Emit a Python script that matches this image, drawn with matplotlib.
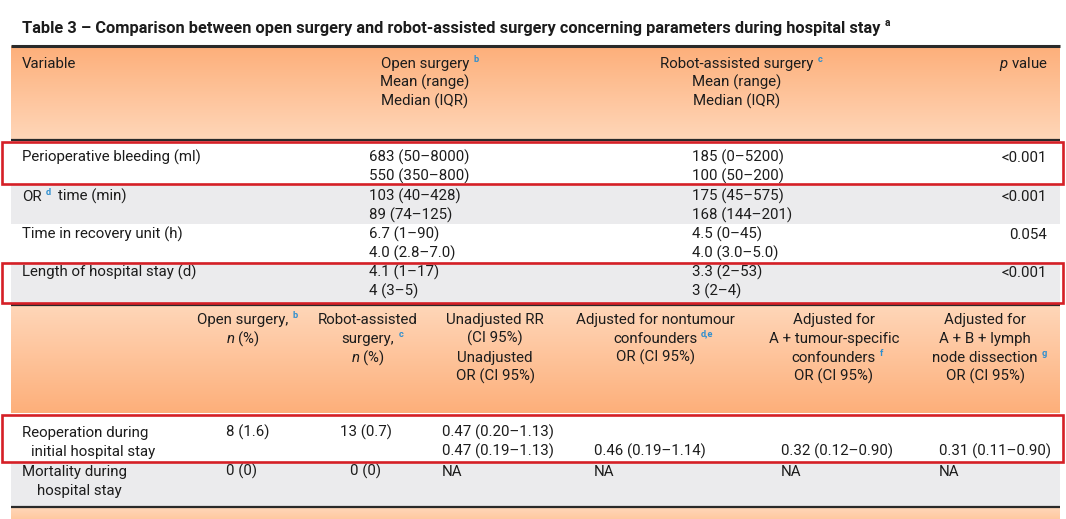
import numpy as np
import matplotlib
matplotlib.use("Agg")
import matplotlib.pyplot as plt
from matplotlib.colors import LinearSegmentedColormap
from matplotlib.patches import Rectangle

#fonts
FONT = "Roboto"
plt.rcParams["font.family"] = [FONT, "DejaVu Sans"]
plt.rcParams["mathtext.fontset"] = "custom"
plt.rcParams["mathtext.rm"] = FONT
plt.rcParams["mathtext.it"] = FONT + ":italic"

#1. Data - table 1 (hospital stay parameters)
title = "Table 3 \u2013 Comparison between open surgery and robot-assisted surgery concerning parameters during hospital stay"
variables = ["Perioperative bleeding (ml)", "OR", "Time in recovery unit (h)", "Length of hospital stay (d)"]
open_mean = ["683 (50\u20138000)", "103 (40\u2013428)", "6.7 (1\u201390)", "4.1 (1\u201317)"]
open_median = ["550 (350\u2013800)", "89 (74\u2013125)", "4.0 (2.8\u20137.0)", "4 (3\u20135)"]
robot_mean = ["185 (0\u20135200)", "175 (45\u2013575)", "4.5 (0\u201345)", "3.3 (2\u201353)"]
robot_median = ["100 (50\u2013200)", "168 (144\u2013201)", "4.0 (3.0\u20135.0)", "3 (2\u20134)"]
p_values = ["<0.001", "<0.001", "0.054", "<0.001"]

#2. Data - table 2 (reoperation / mortality)
outcomes = [["Reoperation during", "initial hospital stay"], ["Mortality during", "hospital stay"]]
open_n = ["8 (1.6)", "0 (0)"]
robot_n = ["13 (0.7)", "0 (0)"]
unadj_rr = ["0.47 (0.20\u20131.13)", "NA"]
unadj_or = ["0.47 (0.19\u20131.13)", ""]
adj_a = ["0.46 (0.19\u20131.14)", "NA"]
adj_b = ["0.32 (0.12\u20130.90)", "NA"]
adj_c = ["0.31 (0.11\u20130.90)", "NA"]

head2 = [
    (["Open surgery,", "$n$ (%)"], "b", 0),
    (["Robot-assisted", "surgery,", "$n$ (%)"], "c", 1),
    (["Unadjusted RR", "(CI 95%)", "Unadjusted", "OR (CI 95%)"], None, None),
    (["Adjusted for nontumour", "confounders", "OR (CI 95%)"], "d,e", 1),
    (["Adjusted for", "A + tumour-specific", "confounders", "OR (CI 95%)"], "f", 2),
    (["Adjusted for", "A + B + lymph", "node dissection", "OR (CI 95%)"], "g", 2),
]

#3. Style
FS = 10.8
TXT = "#1c1c1c"
BLUE = "#2f8fcf"
GRAY = "#ebebed"
RULE = "#2a2a2a"
RED = "#d51f26"
ORANGE_DARK = "#fdaf7a"
ORANGE_LIGHT = "#ffd6b8"
W, H = 1066, 519

fig = plt.figure(figsize=(W / 100, H / 100), dpi=100)
ax = fig.add_axes([0, 0, 1, 1])
ax.set_xlim(0, W)
ax.set_ylim(H, 0)
ax.set_autoscale_on(False)
ax.axis("off")
renderer = fig.canvas.get_renderer()

def gradient(x0, x1, y_top, y_bot, c_top, c_bot):
    cmap = LinearSegmentedColormap.from_list("g", [c_top, c_bot])
    grad = np.linspace(0, 1, 200).reshape(-1, 1)
    ax.imshow(grad, cmap=cmap, extent=(x0, x1, y_bot, y_top), aspect="auto", origin="upper", zorder=0)

def band(y0, y1, color):
    ax.add_patch(Rectangle((11, y0), 1049, y1 - y0, facecolor=color, edgecolor="none", zorder=0))

def rule(y, lw=1.5):
    ax.plot([11, 1060], [y, y], color=RULE, lw=lw, solid_capstyle="butt", zorder=2)

def put(x, y, s, ha="left", sup=None, sup_color=BLUE, bold=False, fs=FS):
    #y is the visual centre of the line, text is placed on its baseline
    t = ax.text(x, y + fs * 0.47, s, ha=ha, va="baseline", fontsize=fs, color=TXT,
                fontweight="bold" if bold else "normal", zorder=3)
    if sup:
        bb = t.get_window_extent(renderer)
        ax.text(bb.x1 + 4, y - fs * 0.12, sup, ha="left", va="baseline", fontsize=fs * 0.62,
                color=sup_color, fontweight="bold", zorder=3)
    return t

#4. Backgrounds
gradient(11, 1060, 46, 139, ORANGE_DARK, ORANGE_LIGHT)
gradient(11, 1060, 306, 413, ORANGE_LIGHT, ORANGE_DARK)
gradient(11, 1060, 508, 519, ORANGE_LIGHT, "#ffc9a0")
row_tops = [141, 184, 224, 262, 304]
for i in range(len(variables)):
    band(row_tops[i], row_tops[i + 1], "white" if i % 2 == 0 else GRAY)
band(413, 462, "white")
band(462, 506, GRAY)

rule(46, 2.2)
rule(140, 1.6)
rule(305, 1.6)
rule(507, 1.6)

#5. Title
put(22, 27, title, sup="a", sup_color=TXT, bold=True, fs=11.8)

#6. Table 1 header
put(22, 63, "Variable")
for cx, name, sup in [(425, "Open surgery", "b"), (737, "Robot-assisted surgery", "c")]:
    put(cx, 63, name, ha="center", sup=sup)
    put(cx, 82, "Mean (range)", ha="center")
    put(cx, 101, "Median (IQR)", ha="center")
put(1048, 63, "$p$ value", ha="right")

#7. Table 1 rows
line1 = [157, 196, 234, 272]
for i, var in enumerate(variables):
    y1, y2 = line1[i], line1[i] + 19
    if var == "OR":
        t = put(22, y1, "OR", sup="d")
        bb = t.get_window_extent(renderer)
        put(bb.x1 + 16, y1, "time (min)")
    else:
        put(22, y1, var)
    put(369, y1, open_mean[i])
    put(369, y2, open_median[i])
    put(692, y1, robot_mean[i])
    put(692, y2, robot_median[i])
    put(1047, y1, p_values[i], ha="right")

#8. Table 2 header
col_centers = [243, 368, 495, 655, 834, 985]
for cx, (lines, sup, sup_line) in zip(col_centers, head2):
    for j, s in enumerate(lines):
        put(cx, 319 + 19 * j, s, ha="center", sup=sup if j == sup_line else None)

#9. Table 2 rows
rows2 = [432, 471]
for i, (l1, l2) in enumerate(outcomes):
    y1, y2 = rows2[i], rows2[i] + 19
    put(22, y1, l1)
    put(22 + (9 if i == 0 else 15), y2, l2)
    put(226, y1, open_n[i])
    put(366, y1, robot_n[i], ha="center")
    put(442, y1, unadj_rr[i])
    put(442, y2, unadj_or[i])
    y_adj = y2 if unadj_or[i] else y1
    put(594, y_adj, adj_a[i])
    put(781, y_adj, adj_b[i])
    put(939, y_adj, adj_c[i])

#10. Highlight boxes
for y0, y1 in [(142, 184), (263, 303), (415, 462)]:
    ax.add_patch(Rectangle((2, y0), 1061, y1 - y0, facecolor="none", edgecolor=RED, lw=1.9, zorder=4))

fig.savefig("out.png", dpi=100)
